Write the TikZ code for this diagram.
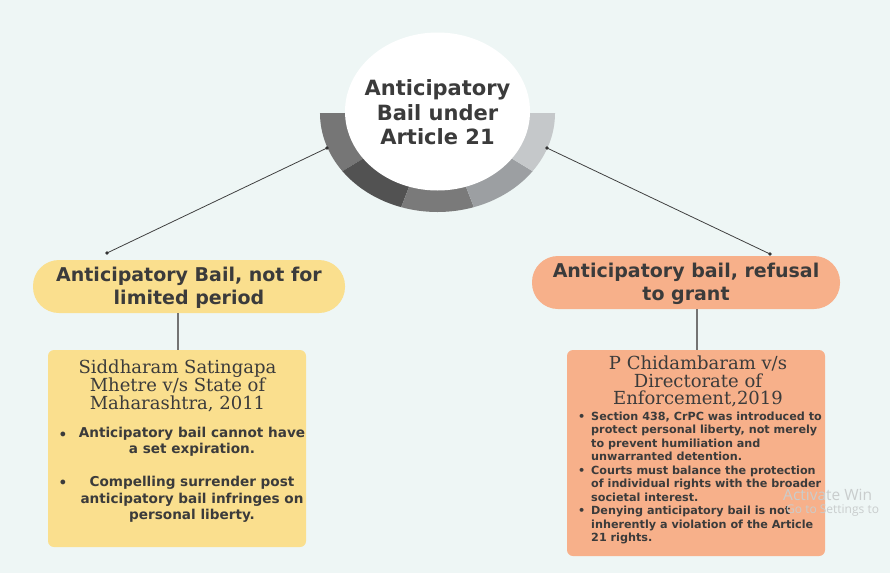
\documentclass[tikz,border=0pt]{standalone}
\usepackage{fontspec}
\setmainfont{DejaVu Sans}
\newfontfamily\ttlfont{DejaVu Serif}
\newfontfamily\wmkfont{Open Sans}
\usetikzlibrary{shapes.geometric}
\definecolor{bgc}{HTML}{EEF6F5}
\definecolor{ylw}{HTML}{FADF8E}
\definecolor{slm}{HTML}{F7B08A}
\definecolor{txt}{HTML}{3B3B3B}
\definecolor{segA}{HTML}{767676}
\definecolor{segB}{HTML}{525252}
\definecolor{segC}{HTML}{7A7A7A}
\definecolor{segD}{HTML}{9C9FA2}
\definecolor{segE}{HTML}{C5C8CA}
\definecolor{wmk}{HTML}{C9CDCD}
\tikzset{
  pill/.style={rounded corners=26pt, minimum height=53pt, inner sep=0pt, text=txt,
    font=\bfseries\fontsize{19}{23}\selectfont, align=center},
  casebox/.style={rounded corners=6pt, inner sep=0pt},
  ttl/.style={text=txt, align=center, font=\ttlfont\fontsize{18}{17.8}\selectfont},
  btxt/.style={text=txt, font=\bfseries\fontsize{13.6}{16.5}\selectfont, inner sep=0pt},
  stxt/.style={text=txt, font=\bfseries\fontsize{11.2}{13.5}\selectfont, inner sep=0pt, align=left},
  link/.style={draw=black!75, line width=0.8pt},
  stem/.style={draw=black!55, line width=1.2pt},
  enddot/.style={fill=black!80},
  wm/.style={text=wmk, anchor=west, inner sep=0pt},
}
\begin{document}
\begin{tikzpicture}[x=1pt,y=-1pt]
\fill[bgc] (0,0) rectangle (890,573);
\useasboundingbox (0,0) rectangle (890,573);
% ring segments
\begin{scope}[shift={(437.5,113)}, xscale=1.187]
  \fill[segA] (0,0) -- (180:99) arc[start angle=180, end angle=144, radius=99] -- cycle;
  \fill[segB] (0,0) -- (144:99) arc[start angle=144, end angle=108, radius=99] -- cycle;
  \fill[segC] (0,0) -- (108:99) arc[start angle=108, end angle=72, radius=99] -- cycle;
  \fill[segD] (0,0) -- (72:99) arc[start angle=72, end angle=36, radius=99] -- cycle;
  \fill[segE] (0,0) -- (36:99) arc[start angle=36, end angle=0, radius=99] -- cycle;
\end{scope}
% hub
\node[ellipse, fill=white, minimum width=185pt, minimum height=158pt, inner sep=0pt] (hub) at (437.5,111.5) {};
\node[text=txt, align=center, font=\bfseries\fontsize{21}{24.5}\selectfont] (hubtxt) at (437.5,112.5)
  {Anticipatory\\Bail under\\Article 21};
% pills
\node[pill, fill=ylw, minimum width=312pt] (lp) at (189,286.5) {};
\node[pill] (lpt) at (189,288) {Anticipatory Bail, not for\\limited period};
\node[pill, fill=slm, minimum width=308pt] (rp) at (686,282.5) {};
\node[pill] (rpt) at (686,283.5) {Anticipatory bail, refusal\\to grant};
% case boxes
\node[casebox, fill=ylw, minimum width=258pt, minimum height=197pt] (lb) at (177,448.5) {};
\node[casebox, fill=slm, minimum width=258pt, minimum height=206pt] (rb) at (696,453) {};
% connectors
\coordinate (hl) at (327,148);
\coordinate (hr) at (547,148);
\coordinate (pl) at (107,253);
\coordinate (pr) at (770,254);
\draw[link] (hl) -- (pl);
\draw[link] (hr) -- (pr);
\foreach \p in {hl,hr,pl,pr} \fill[enddot] (\p) circle (1.8pt);
\draw[stem] (lp.south -| 178,0) -- (lb.north -| 178,0);
\draw[stem] (rp.south -| 697,0) -- (rb.north -| 697,0);
% left case text
\node[ttl] (lt) at (177.5,386) {Siddharam Satingapa\\Mhetre v/s State of\\Maharashtra, 2011};
\node[btxt, align=center] (lbt) at (192,475)
  {Anticipatory bail cannot have\\a set expiration.\\[16.5pt]Compelling surrender post\\anticipatory bail infringes on\\personal liberty.};
\node[btxt] (lb1) at (63,436) {\textbullet};
\node[btxt] (lb2) at (63,484) {\textbullet};
% right case text
\node[ttl] (rt) at (698,381.5) {P Chidambaram v/s\\Directorate of\\Enforcement,2019};
\node[stxt, anchor=west] (rbt) at (591,478)
  {\llap{\textbullet\hspace{6pt}}Section 438, CrPC was introduced to\\
   protect personal liberty, not merely\\
   to prevent humiliation and\\
   unwarranted detention.\\
   \llap{\textbullet\hspace{6pt}}Courts must balance the protection\\
   of individual rights with the broader\\
   societal interest.\\
   \llap{\textbullet\hspace{6pt}}Denying anticipatory bail is not\\
   inherently a violation of the Article\\
   21 rights.};
% watermark (as cut off at the picture's edge)
\node[wm, font=\wmkfont\fontsize{15.5}{15.5}\selectfont] (wm1) at (783,495) {Activate Win};
\node[wm, font=\wmkfont\fontsize{12}{12}\selectfont] (wm2) at (786,511) {Go to Settings to};
\end{tikzpicture}
\end{document}
